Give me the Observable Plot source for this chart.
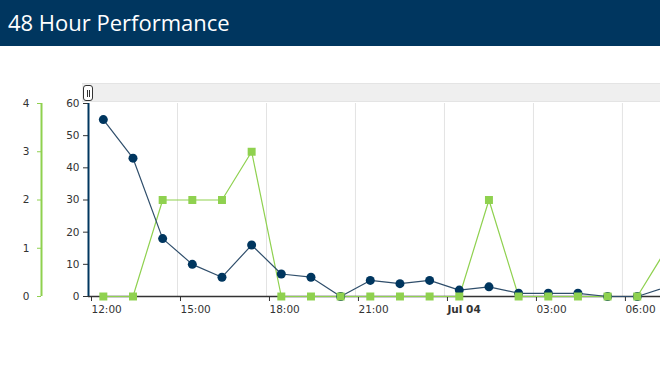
<!DOCTYPE html>
<html>
<head>
<meta charset="utf-8">
<script src="https://cdn.jsdelivr.net/npm/d3@7"></script>
<script src="https://cdn.jsdelivr.net/npm/@observablehq/plot@0.6"></script>
<style>
  html, body { margin: 0; padding: 0; background: #fff; width: 660px; height: 375px; overflow: hidden; }
  #header { height: 46px; background: #00365f; color: #fff; font-family: "Open Sans", sans-serif; font-size: 22px; line-height: 44px; padding-left: 8px; box-sizing: border-box; }
  #wrap { position: relative; }
  #band { position: absolute; left: 82px; top: 37px; width: 578px; height: 19px; background: #efefef; border-top: 1px solid #e4e4e4; border-bottom: 1px solid #e4e4e4; box-sizing: border-box; }
  #handle { position: absolute; left: 83px; top: 39px; width: 10px; height: 16px; background: #fff; border: 1px solid #333; border-radius: 3px; box-sizing: border-box; }
  #handle::before, #handle::after { content: ""; position: absolute; top: 4px; width: 1px; height: 7px; background: #333; }
  #handle::before { left: 2.5px; }
  #handle::after { left: 5px; }
</style>
</head>
<body>
<div id="header">48 Hour Performance</div>
<div id="wrap">
  <div id="chart"></div>
  <div id="band"></div>
  <div id="handle"></div>
</div>
<script>
// Data (hourly)
const times = [
  "2023-07-03T12:30Z","2023-07-03T13:30Z","2023-07-03T14:30Z","2023-07-03T15:30Z","2023-07-03T16:30Z",
  "2023-07-03T17:30Z","2023-07-03T18:30Z","2023-07-03T19:30Z","2023-07-03T20:30Z","2023-07-03T21:30Z",
  "2023-07-03T22:30Z","2023-07-03T23:30Z","2023-07-04T00:30Z","2023-07-04T01:30Z","2023-07-04T02:30Z",
  "2023-07-04T03:30Z","2023-07-04T04:30Z","2023-07-04T05:30Z","2023-07-04T06:30Z","2023-07-04T07:30Z"
];
const primaryValues = [55, 43, 18, 10, 6, 16, 7, 6, 0, 5, 4, 5, 2, 3, 1, 1, 1, 0, 0, 3];
const secondaryValues = [0, 0, 2, 2, 2, 3, 0, 0, 0, 0, 0, 0, 0, 2, 0, 0, 0, 0, 0, 1];
const primaryTicks = [0, 10, 20, 30, 40, 50, 60];
const secondaryTicks = [0, 1, 2, 3, 4];
const xTickTimes = ["2023-07-03T12:00Z","2023-07-03T15:00Z","2023-07-03T18:00Z","2023-07-03T21:00Z","2023-07-04T00:00Z","2023-07-04T03:00Z","2023-07-04T06:00Z"];
const xDomain = ["2023-07-03T12:00Z", "2023-07-04T07:17Z"];

const navy = "#00365f";
const green = "#8fd14f";
const secMax = 4, priMax = 60, k = priMax / secMax;

const data = times.map((t, i) => ({t: new Date(t), p: primaryValues[i], s: secondaryValues[i] * k}));
const xt = xTickTimes.map(d => new Date(d));
const midnight = xt.filter(d => d.getUTCHours() === 0);
const regular = xt.filter(d => d.getUTCHours() !== 0);
const t0 = new Date(xDomain[0]);
const fmt = d => d.getUTCHours() === 0 ? d3.utcFormat("%b %d")(d) : d3.utcFormat("%H:%M")(d);

const chart = Plot.plot({
  width: 660,
  height: 329,
  marginLeft: 88,
  marginRight: 0,
  marginTop: 57,
  marginBottom: 79,
  style: {fontFamily: "'DejaVu Sans', Verdana, sans-serif", fontSize: "10.5px", color: "#333", background: "transparent"},
  x: {type: "utc", domain: xDomain.map(d => new Date(d)), label: null},
  y: {domain: [0, priMax], label: null},
  marks: [
    Plot.ruleX(xt.slice(1), {stroke: "#e3e3e3", strokeWidth: 1}),
    // secondary axis
    Plot.ruleX([t0], {dx: -47, stroke: green, strokeWidth: 2}),
    Plot.axisY(secondaryTicks.map(v => v * k), {anchor: "left", label: null, tickFormat: d => d / k, dx: -47, stroke: green, fill: "#333", tickSize: 4, tickPadding: 8}),
    // primary axis
    Plot.axisY(primaryTicks, {anchor: "left", label: null, tickSize: 5, tickPadding: 4, stroke: "#333", fill: "#333"}),
    Plot.axisX(regular, {anchor: "bottom", label: null, tickFormat: fmt, textAnchor: "start", dx: 3, tickSize: 5, tickPadding: 4, stroke: "#333", fill: "#333"}),
    Plot.axisX(midnight, {anchor: "bottom", label: null, tickFormat: fmt, textAnchor: "start", dx: 3, tickSize: 5, tickPadding: 4, stroke: "#333", fill: "#333", fontWeight: "bold"}),
    Plot.ruleY([0], {stroke: "#333", strokeWidth: 1.5}),
    Plot.ruleX([t0], {stroke: navy, strokeWidth: 2}),
    Plot.line(data, {x: "t", y: "s", stroke: green, strokeWidth: 1.2}),
    Plot.line(data, {x: "t", y: "p", stroke: "#2f4e6b", strokeWidth: 1.2}),
    Plot.dot(data, {x: "t", y: "p", r: 4.5, fill: navy, stroke: "none"}),
    Plot.dot(data, {x: "t", y: "s", symbol: "square", r: 4.5, fill: green, stroke: "none"})
  ]
});
document.getElementById("chart").appendChild(chart);
</script>
</body>
</html>
